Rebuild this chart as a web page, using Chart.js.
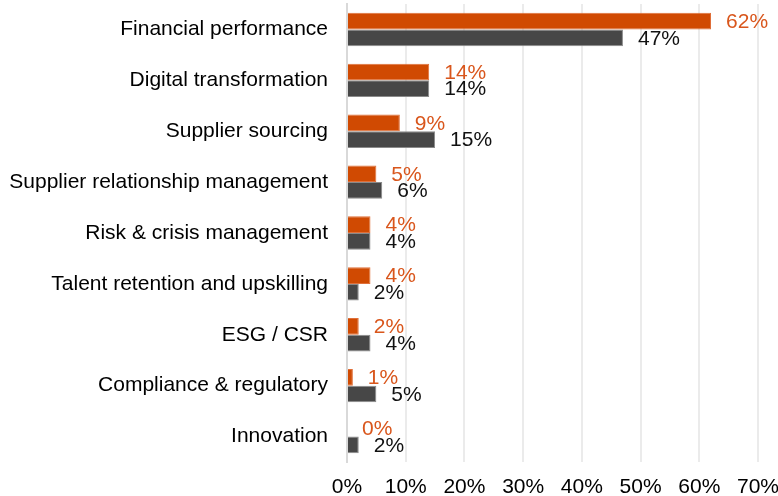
<!DOCTYPE html>
<html lang="en">
<head>
  <meta charset="UTF-8"/>
  <title>Priorities</title>
  <script src="https://cdn.jsdelivr.net/npm/chart.js"></script>
  <style>
    html, body { margin: 0; padding: 0; background: #fff; }
    #wrap { width: 778px; height: 496px; }
  </style>
</head>
<body>
  <div id="wrap"><canvas id="chart"></canvas></div>

  <script>
    const categories = [
      'Financial performance',
      'Digital transformation',
      'Supplier sourcing',
      'Supplier relationship management',
      'Risk & crisis management',
      'Talent retention and upskilling',
      'ESG / CSR',
      'Compliance & regulatory',
      'Innovation'
    ];
    const seriesA = [62, 14, 9, 5, 4, 4, 2, 1, 0];   // orange
    const seriesB = [47, 14, 15, 6, 4, 2, 4, 5, 2];  // dark grey
    const xTicks = [0, 10, 20, 30, 40, 50, 60, 70];

    const ORANGE = '#D04A02';
    const GREY = '#474747';

    // value labels to the right of each bar
    const barLabels = {
      id: 'barLabels',
      afterDatasetsDraw(chart) {
        const ctx = chart.ctx;
        const colors = ['#D9561C', '#111111'];
        ctx.save();
        ctx.font = "21px 'Liberation Sans', Arial, sans-serif";
        ctx.textAlign = 'left';
        ctx.textBaseline = 'middle';
        chart.data.datasets.forEach((ds, i) => {
          const meta = chart.getDatasetMeta(i);
          ctx.fillStyle = colors[i];
          meta.data.forEach((bar, j) => {
            ctx.fillText(ds.data[j] + '%', bar.x + 15, bar.y + 1);
          });
        });
        ctx.restore();
      }
    };

    Chart.defaults.font.family = "'Liberation Sans', Arial, sans-serif";
    Chart.defaults.font.size = 21;
    Chart.defaults.color = '#000';

    new Chart(document.getElementById('chart'), {
      type: 'bar',
      data: {
        labels: categories,
        datasets: [
          {
            data: seriesA,
            backgroundColor: ORANGE,
            borderColor: '#E0703A',
            borderWidth: 1,
            categoryPercentage: 0.656,
            barPercentage: 1
          },
          {
            data: seriesB,
            backgroundColor: GREY,
            borderColor: '#8A8A8A',
            borderWidth: 1,
            categoryPercentage: 0.656,
            barPercentage: 1
          }
        ]
      },
      options: {
        indexAxis: 'y',
        responsive: true,
        maintainAspectRatio: false,
        animation: false,
        layout: { padding: { top: 4, right: 20, bottom: 0, left: 0 } },
        plugins: {
          legend: { display: false },
          tooltip: { enabled: false }
        },
        scales: {
          x: {
            min: 0,
            max: 70,
            afterBuildTicks: s => { s.ticks = xTicks.map(v => ({ value: v })); },
            afterFit: s => {
              s.height = 34;
              s.paddingLeft = 0;
              s.paddingRight = 0;
            },
            border: { display: false },
            grid: { color: '#EBEBEB', lineWidth: 2, drawTicks: false },
            ticks: { padding: 13, callback: v => v + '%' }
          },
          y: {
            afterFit: s => {
              s.width = 347;
              s.paddingTop = 0;
              s.paddingBottom = 0;
            },
            border: { display: true, color: '#D9D9D9', width: 2 },
            grid: { display: false, drawTicks: false },
            ticks: { padding: 19 }
          }
        }
      },
      plugins: [barLabels]
    });
  </script>
</body>
</html>
